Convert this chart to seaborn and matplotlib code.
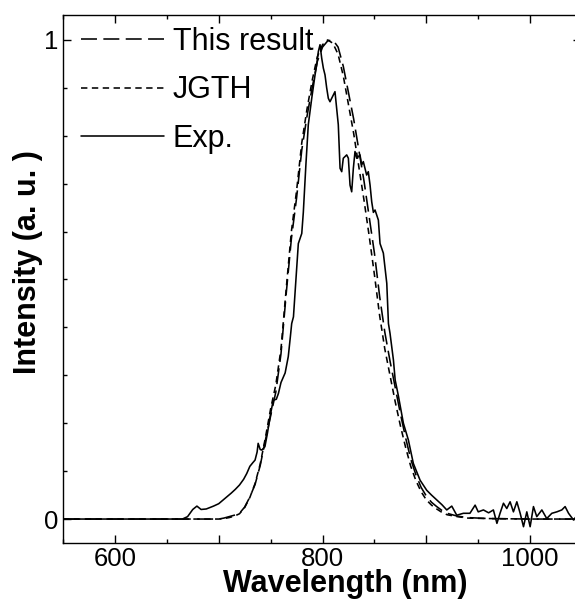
import matplotlib
matplotlib.use("Agg")
import matplotlib.pyplot as plt
from matplotlib.ticker import MultipleLocator, FixedLocator, FuncFormatter
import seaborn as sns

# theory curves
wl_theory = [550, 600, 650, 700, 705, 710, 715, 720, 725, 730, 735, 740, 745,
             750, 755, 760, 765, 770, 775, 780, 785, 790, 795, 800, 805, 810,
             815, 820, 825, 830, 835, 840, 845, 850, 855, 860, 865, 870, 875,
             880, 885, 890, 895, 900, 905, 910, 915, 920, 930, 940, 960, 1000,
             1050]
this_result = [0, 0, 0, 0.0, 0.002, 0.005, 0.008, 0.012, 0.025, 0.046, 0.072,
               0.112, 0.165, 0.215, 0.265, 0.345, 0.47, 0.585, 0.67, 0.77,
               0.84, 0.9, 0.955, 0.985, 0.998, 1.0, 0.985, 0.945, 0.89, 0.835,
               0.77, 0.705, 0.63, 0.555, 0.465, 0.39, 0.33, 0.275, 0.22, 0.17,
               0.125, 0.092, 0.066, 0.048, 0.035, 0.026, 0.018, 0.012, 0.006,
               0.003, 0.001, 0, 0]
jgth = [0, 0, 0, 0.0, 0.001, 0.003, 0.006, 0.011, 0.024, 0.045, 0.074, 0.115,
        0.17, 0.23, 0.28, 0.355, 0.48, 0.6, 0.685, 0.785, 0.855, 0.915, 0.965,
        0.99, 1.0, 0.993, 0.97, 0.925, 0.865, 0.805, 0.735, 0.665, 0.59, 0.51,
        0.425, 0.355, 0.3, 0.245, 0.195, 0.15, 0.11, 0.08, 0.057, 0.04, 0.029,
        0.021, 0.014, 0.009, 0.005, 0.002, 0.001, 0, 0]

# measured spectrum
wl_exp = [550, 600, 650, 665, 670, 675, 679, 683, 688, 695, 700, 706, 712,
          716, 720, 724, 727, 730, 733, 735, 737, 738, 740, 741.5, 744.5, 747,
          749.5, 752.5, 755.5, 757.5, 760, 764, 767, 769, 770.3, 772, 773.5,
          776.7, 780, 781.5, 784, 786.3, 789.6, 792.8, 794.4, 796, 797.6, 799.2,
          800.8, 802.4, 804, 805.6, 807.2, 810.4, 812, 815.2, 816.9, 818.5,
          820, 823.3, 824.9, 826.5, 828.1, 829.7, 831.3, 833, 836.1, 837.7,
          839.3, 842.5, 844.1, 845.8, 847.4, 849, 850.6, 853.8, 855.4, 858.6,
          861.9, 863.5, 865, 868.3, 870, 873, 877.9, 882.7, 887.5, 894, 900.4,
          905, 910, 915, 919.7, 924.5, 929.3, 935.7, 942, 947, 950, 955, 960,
          964.6, 968, 971, 974.3, 977.5, 980.7, 983.9, 987.2, 990.4, 993.6,
          996.8, 1000, 1003.2, 1006.4, 1011.3, 1016, 1020.9, 1025.7, 1030.5,
          1033.7, 1037, 1041.8, 1046]
exp_int = [0, 0, 0, 0.0, 0.005, 0.02, 0.027, 0.02, 0.021, 0.027, 0.032, 0.043,
           0.054, 0.062, 0.071, 0.083, 0.095, 0.11, 0.118, 0.123, 0.14, 0.158,
           0.145, 0.144, 0.151, 0.18, 0.214, 0.248, 0.25, 0.262, 0.285, 0.305,
           0.339, 0.38, 0.408, 0.422, 0.471, 0.575, 0.596, 0.64, 0.74, 0.823,
           0.878, 0.927, 0.948, 0.976, 0.99, 0.962, 0.941, 0.927, 0.9, 0.878,
           0.871, 0.885, 0.892, 0.823, 0.732, 0.725, 0.753, 0.76, 0.753, 0.697,
           0.683, 0.732, 0.767, 0.753, 0.76, 0.739, 0.746, 0.718, 0.725, 0.697,
           0.662, 0.64, 0.645, 0.624, 0.575, 0.555, 0.492, 0.408, 0.388, 0.332,
           0.29, 0.258, 0.2, 0.165, 0.116, 0.081, 0.06, 0.05, 0.04, 0.03,
           0.019, 0.027, 0.008, 0.012, 0.012, 0.029, 0.015, 0.019, 0.013,
           0.019, -0.009, 0.012, 0.033, 0.022, 0.036, 0.015, 0.036, 0.012,
           -0.016, 0.015, -0.016, 0.026, 0.005, 0.019, 0.001, 0.012, 0.015,
           0.019, 0.026, 0.012, -0.002, 0.01]

sns.set_style("ticks")
plt.rcParams["font.family"] = ["Liberation Sans", "DejaVu Sans"]
plt.rcParams["text.color"] = "black"
plt.rcParams["axes.labelcolor"] = "black"

fig = plt.figure(figsize=(5.75, 6.07), dpi=100)
ax = fig.add_axes([63 / 575, 64 / 607, 518 / 575, 528 / 607])

sns.lineplot(x=wl_theory, y=this_result, ax=ax, color="black", lw=1.15,
             linestyle=(0, (10, 4)), label="This result", estimator=None)
sns.lineplot(x=wl_theory, y=jgth, ax=ax, color="black", lw=1.15,
             linestyle=(0, (4, 2.8)), label="JGTH", estimator=None)
sns.lineplot(x=wl_exp, y=exp_int, ax=ax, color="black", lw=1.15,
             label="Exp.", estimator=None)

ax.set_xlim(550, 1049)
ax.set_ylim(-0.05, 1.052)

ax.xaxis.set_major_locator(MultipleLocator(100))
ax.xaxis.set_minor_locator(MultipleLocator(50))
ax.xaxis.set_major_formatter(
    FuncFormatter(lambda v, p: f"{v:.0f}" if round(v) % 200 == 0 else ""))
ax.yaxis.set_major_locator(FixedLocator([0, 1]))
ax.yaxis.set_minor_locator(MultipleLocator(0.1))
ax.yaxis.set_major_formatter(FuncFormatter(lambda v, p: f"{v:.0f}"))

ax.tick_params(which="both", direction="in", top=True, right=True,
               labelsize=18.5, width=1, color="black", labelcolor="black")
ax.tick_params(which="major", length=5.5, pad=3)
ax.tick_params(which="minor", length=3)
for s in ax.spines.values():
    s.set_linewidth(1.0)
    s.set_color("black")

ax.set_xlabel("Wavelength (nm)", fontsize=22, fontweight="bold", va="center")
ax.xaxis.set_label_coords(0.544, -0.078)
ax.set_ylabel("Intensity (a. u. )", fontsize=22, fontweight="bold", va="center")
ax.yaxis.set_label_coords(-0.068, 0.532)

ax.legend(loc="upper left", bbox_to_anchor=(0.035, 0.977), frameon=False,
          fontsize=22, handlelength=2.7, handletextpad=0.3, labelspacing=0.6,
          borderaxespad=0, borderpad=0)

fig.savefig("out.png", dpi=100)
